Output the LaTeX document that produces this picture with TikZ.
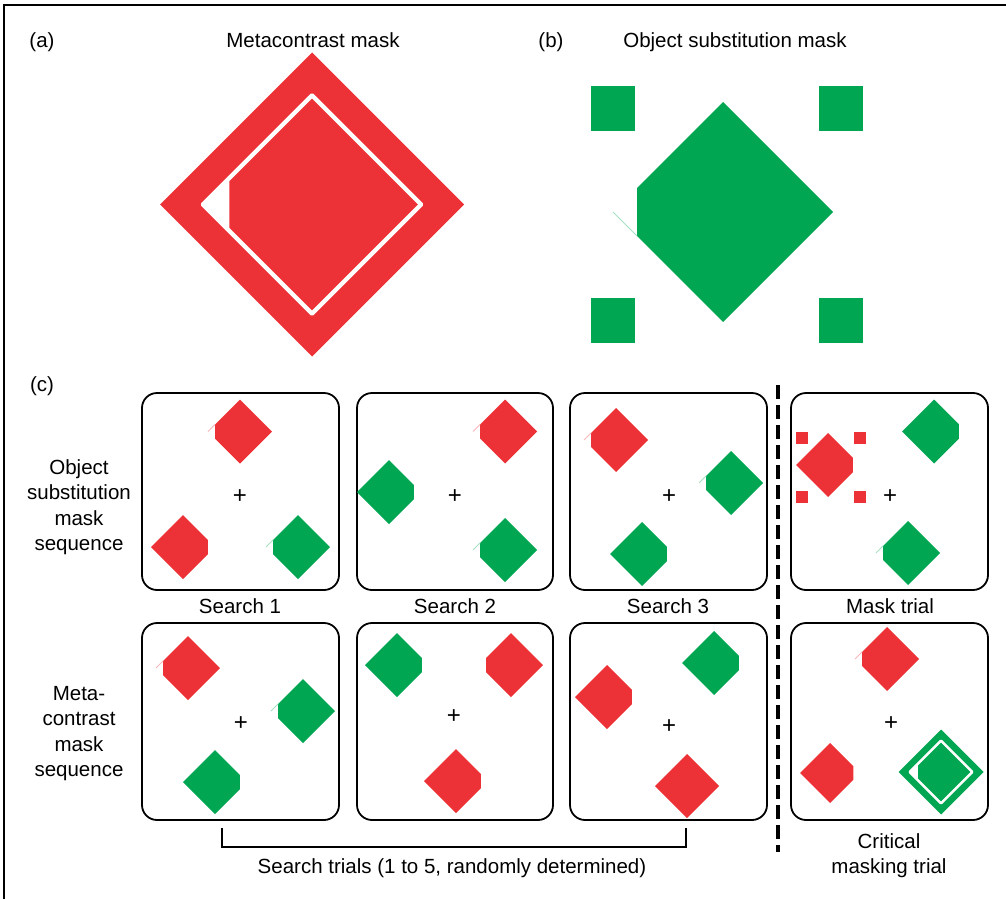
\documentclass[tikz,border=0pt]{standalone}
\usepackage{fontspec}
\setmainfont{Liberation Sans}
\definecolor{mred}{RGB}{237,50,55}
\definecolor{mgreen}{RGB}{0,166,81}
\tikzset{
  lbl/.style={font=\fontsize{20.5}{25}\selectfont, inner sep=0pt, anchor=base},
  panelbox/.style={draw=black, line width=1.8pt, rounded corners=15pt},
  redfill/.style={fill=mred},
  greenfill/.style={fill=mgreen},
  faintred/.style={draw=mred!35, line width=0.8pt},
  faintgreen/.style={draw=mgreen!35, line width=0.8pt},
  fixcross/.style={font=\fontsize{24}{24}\selectfont, inner sep=0pt},
  frameline/.style={draw=black, line width=1.6pt},
  bracketline/.style={draw=black, line width=1.6pt},
  divider/.style={draw=black, line width=3.5pt, dash pattern=on 14pt off 6pt},
}
% cut diamond: cx, cy, r, fill style, direction (1 = cut left, -1 = cut right)
\newcommand\cutdiamond[5]{%
  \begin{scope}[shift={(#1,#2)}, scale=#3, xscale=#5]
    \fill[#4] (0,-1) -- (1,0) -- (0,1) -- (-0.78,0.22) -- (-0.78,-0.22) -- cycle;
  \end{scope}}
% faint line at left tip: cx, cy, r, style, side (-1 upper, 1 lower)
\newcommand\faintline[5]{%
  \begin{scope}[shift={(#1,#2)}, scale=#3]
    \draw[#4] (-0.78,#5*0.22) -- (-1,0);
  \end{scope}}
\newcommand\fulldiamond[4]{%
  \begin{scope}[shift={(#1,#2)}, scale=#3]
    \fill[#4] (0,-1) -- (1,0) -- (0,1) -- (-1,0) -- cycle;
  \end{scope}}
% metacontrast ring: cx, cy, R, fill style, white ratio, inner ratio
\newcommand\ringmask[6]{%
  \begin{scope}[shift={(#1,#2)}, scale=#3]
    \fill[#4] (0,-1) -- (1,0) -- (0,1) -- (-1,0) -- cycle;
    \fill[white, rounded corners=1.5pt] (0,-#5) -- (#5,0) -- (0,#5) -- (-#5,0) -- cycle;
    \fill[#4] (0,-#6) -- (#6,0) -- (0,#6) -- (-0.78*#6,0.22*#6) -- (-0.78*#6,-0.22*#6) -- cycle;
  \end{scope}}
\begin{document}
\begin{tikzpicture}[x=1pt, y=-1pt]
\useasboundingbox (0,0) rectangle (1006,899);
% frame
\coordinate (fTL) at (4,5);
\coordinate (fTR) at (1006,5);
\coordinate (fBL) at (4,899);
\draw[frameline] (fTR) -- (fTL) -- (fBL);

% titles
\node[lbl] (la) at (42,48) {(a)};
\node[lbl] (ta) at (313,48) {Metacontrast mask};
\node[lbl] (lb) at (551,48) {(b)};
\node[lbl] (tb) at (735,48) {Object substitution mask};
\node[lbl] (lc) at (42,391) {(c)};

% panel (a)
\ringmask{312}{204.5}{152}{redfill}{0.737}{0.697}

% panel (b)
\cutdiamond{723}{212}{110}{greenfill}{1}
\faintline{723}{212}{110}{faintgreen}{1}
\fill[greenfill] (591,86) rectangle (635,131);
\fill[greenfill] (819,86) rectangle (863,131);
\fill[greenfill] (591,298) rectangle (635,343);
\fill[greenfill] (819,298) rectangle (863,343);

% boxes
\draw[panelbox] (142,393) rectangle (339,590);
\draw[panelbox] (357,393) rectangle (553,590);
\draw[panelbox] (570,393) rectangle (767,590);
\draw[panelbox] (791,393) rectangle (988,590);
\draw[panelbox] (142,623) rectangle (339,820);
\draw[panelbox] (357,623) rectangle (553,820);
\draw[panelbox] (570,623) rectangle (767,820);
\draw[panelbox] (791,623) rectangle (988,820);

% row 1, box 1
\cutdiamond{240}{431.5}{32}{redfill}{1}
\faintline{240}{431.5}{32}{faintred}{-1}
\cutdiamond{183}{547}{32}{redfill}{-1}
\cutdiamond{298}{547}{32}{greenfill}{1}
\faintline{298}{547}{32}{faintgreen}{-1}
\node[fixcross] (c11) at (240,497) {+};
% row 1, box 2
\cutdiamond{505}{431.5}{32}{redfill}{1}
\faintline{505}{431.5}{32}{faintred}{-1}
\cutdiamond{389}{492}{32}{greenfill}{-1}
\cutdiamond{505}{550}{32}{greenfill}{1}
\faintline{505}{550}{32}{faintgreen}{-1}
\node[fixcross] (c12) at (455,497) {+};
% row 1, box 3
\cutdiamond{616}{440}{32}{redfill}{1}
\faintline{616}{440}{32}{faintred}{-1}
\cutdiamond{731}{483}{32}{greenfill}{1}
\faintline{731}{483}{32}{faintgreen}{-1}
\cutdiamond{642}{554}{32}{greenfill}{-1}
\node[fixcross] (c13) at (669,497) {+};
% row 1, box 4
\cutdiamond{828}{465}{32}{redfill}{-1}
\fill[redfill] (796,432) rectangle (808,444);
\fill[redfill] (854,432) rectangle (866,444);
\fill[redfill] (796,491) rectangle (808,503);
\fill[redfill] (854,491) rectangle (866,503);
\cutdiamond{934}{431.5}{32}{greenfill}{-1}
\cutdiamond{908}{553}{32}{greenfill}{1}
\faintline{908}{553}{32}{faintgreen}{-1}
\node[fixcross] (c14) at (890,497) {+};

% row 2, box 1
\cutdiamond{188}{668}{32}{redfill}{1}
\faintline{188}{668}{32}{faintred}{-1}
\cutdiamond{303}{711}{32}{greenfill}{1}
\faintline{303}{711}{32}{faintgreen}{-1}
\cutdiamond{215}{782}{32}{greenfill}{-1}
\node[fixcross] (c21) at (241,724) {+};
% row 2, box 2
\cutdiamond{397}{665}{32}{greenfill}{-1}
\cutdiamond{511}{665}{32}{redfill}{1}
\cutdiamond{456}{781}{32}{redfill}{-1}
\node[fixcross] (c22) at (454,717) {+};
% row 2, box 3
\cutdiamond{714}{663}{32}{greenfill}{-1}
\cutdiamond{607}{697}{32}{redfill}{-1}
\fulldiamond{687}{786}{32}{redfill}
\node[fixcross] (c23) at (669,727) {+};
% row 2, box 4
\cutdiamond{887}{659}{32}{redfill}{1}
\faintline{887}{659}{32}{faintred}{-1}
\cutdiamond{830}{773}{30}{redfill}{-1}
\ringmask{941}{772}{42.5}{greenfill}{0.78}{0.69}
\node[fixcross] (c24) at (891,724) {+};

% left labels
\node[lbl] (o1) at (79,474) {Object};
\node[lbl] (o2) at (79,499.5) {substitution};
\node[lbl] (o3) at (79,525) {mask};
\node[lbl] (o4) at (79,550.5) {sequence};
\node[lbl] (m1) at (79,700) {Meta-};
\node[lbl] (m2) at (79,725.5) {contrast};
\node[lbl] (m3) at (79,751) {mask};
\node[lbl] (m4) at (79,776.5) {sequence};

% column labels
\node[lbl] (s1) at (240,613) {Search 1};
\node[lbl] (s2) at (455,613) {Search 2};
\node[lbl] (s3) at (668,613) {Search 3};
\node[lbl] (mt) at (890,613) {Mask trial};
\node[lbl] (cr1) at (889,848) {Critical};
\node[lbl] (cr2) at (889,873) {masking trial};
\node[lbl] (st) at (452,873) {Search trials (1 to 5, randomly determined)};

% bracket
\coordinate (bL) at (222,828);
\coordinate (bR) at (686,828);
\draw[bracketline] (bL) -- (bL |- 0,847) -- (bR |- 0,847) -- (bR);

% divider
\coordinate (dTop) at (778,385);
\coordinate (dBot) at (778,852);
\draw[divider] (dTop) -- (dBot);
\end{tikzpicture}
\end{document}
